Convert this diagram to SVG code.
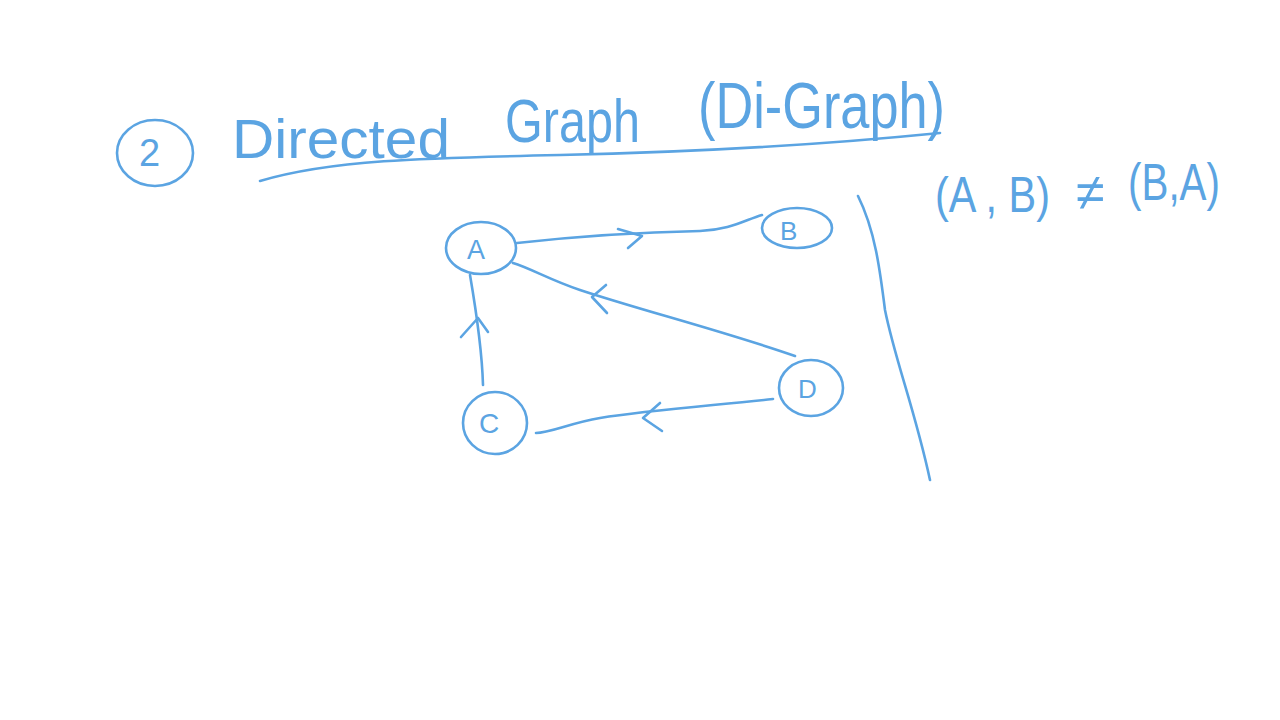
<svg xmlns="http://www.w3.org/2000/svg" width="1280" height="720" viewBox="0 0 1280 720">
<style>
.ink{fill:none;stroke:#5ba4e2;stroke-width:2.6;stroke-linecap:round;stroke-linejoin:round}
.t{fill:#5ba4e2;font-family:"Liberation Sans","DejaVu Sans",sans-serif}
</style>
<rect width="1280" height="720" fill="#ffffff"/>
<g id="title">
<ellipse class="ink" cx="155" cy="153" rx="38" ry="33"/>
<text class="t" x="139" y="166" font-size="38">2</text>
<text class="t" x="232" y="158" font-size="56" textLength="218" lengthAdjust="spacingAndGlyphs">Directed</text>
<text class="t" x="505" y="142" font-size="62" textLength="135" lengthAdjust="spacingAndGlyphs">Graph</text>
<text class="t" x="698" y="128" font-size="64" textLength="247" lengthAdjust="spacingAndGlyphs">(Di-Graph)</text>
<path class="ink" d="M260 181 C330 160 420 158 560 155 C700 152 820 145 940 133"/>
</g>
<g id="divider">
<path class="ink" d="M858 196 C875 230 880 270 885 310 C895 360 915 410 930 480"/>
</g>
<g id="formula">
<text class="t" x="935" y="212" font-size="50" textLength="115" lengthAdjust="spacingAndGlyphs">(A , B)</text>
<text class="t" x="1076" y="210" font-size="52">≠</text>
<text class="t" x="1128" y="200" font-size="52" textLength="92" lengthAdjust="spacingAndGlyphs">(B,A)</text>
</g>
<g id="connectors">
<path class="ink" d="M517 243 C580 236 650 232 700 231 C730 230 745 220 762 215"/>
<path class="ink" d="M618 229 L642 236 L628 248"/>
<path class="ink" d="M795 356 C720 330 640 310 580 290 C550 280 530 268 513 263"/>
<path class="ink" d="M606 285 L592 297 L607 313"/>
<path class="ink" d="M483 385 C482 350 476 310 470 275"/>
<path class="ink" d="M461 337 L478 318 L488 332"/>
<path class="ink" d="M773 399 C720 405 650 410 600 418 C570 423 550 433 536 433"/>
<path class="ink" d="M660 403 L643 418 L662 431"/>
</g>
<g id="node-A">
<ellipse class="ink" cx="481" cy="248" rx="35" ry="26"/>
<text class="t" x="467" y="259" font-size="27">A</text>
</g>
<g id="node-B">
<ellipse class="ink" cx="797" cy="228" rx="35" ry="20"/>
<text class="t" x="780" y="240" font-size="26">B</text>
</g>
<g id="node-C">
<ellipse class="ink" cx="495" cy="423" rx="32" ry="31"/>
<text class="t" x="479" y="433" font-size="28">C</text>
</g>
<g id="node-D">
<ellipse class="ink" cx="811" cy="388" rx="32" ry="28"/>
<text class="t" x="798" y="398" font-size="26">D</text>
</g>
</svg>
